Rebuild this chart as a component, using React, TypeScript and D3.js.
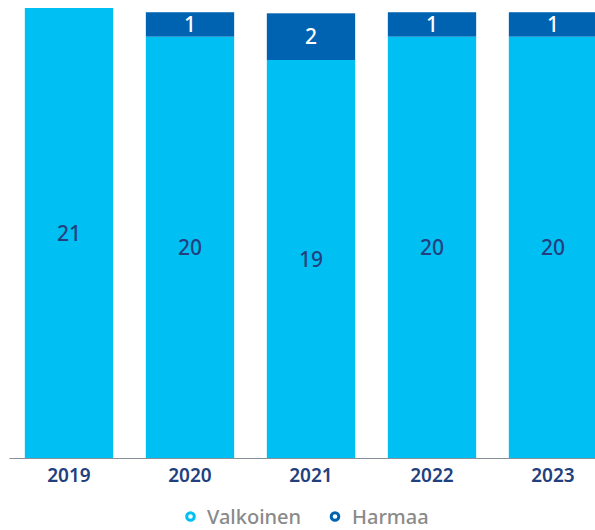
import React from "react";
import * as d3 from "d3";

const years = ["2019", "2020", "2021", "2022", "2023"];
const valkoinen = [21.2, 19.85, 18.75, 19.85, 19.85];
const harmaa = [0, 1.15, 2.2, 1.15, 1.15];
const seriesNames = ["Valkoinen", "Harmaa"];
const seriesColors = ["#00C0F3", "#0063B1"];

const W = 595;
const H = 530;

export default function App() {
  const x = d3
    .scaleBand<string>()
    .domain(years)
    .range([8.5, 8.5 + 121 * 5])
    .paddingInner(0.27)
    .paddingOuter(0.135);
  const y = d3.scaleLinear().domain([0, 21.2]).range([458, 8]);

  const rows = years.map((yr, i) => ({ year: yr, Valkoinen: valkoinen[i], Harmaa: harmaa[i] }));
  const stack = d3.stack<any>().keys(seriesNames);
  const layers = stack(rows);
  const fmt = d3.format(".0f");

  return (
    <svg width={W} height={H} style={{ position: "absolute", left: 0, top: 0, background: "#fff" }}>
      {layers.map((layer, li) => (
        <g key={layer.key}>
          {layer.map((d, i) => {
            const v = d[1] - d[0];
            if (v <= 0) return null;
            const x0 = x(years[i])!;
            const y0 = y(d[1]);
            const h = y(d[0]) - y(d[1]);
            return (
              <g key={i}>
                <rect x={x0} y={y0} width={x.bandwidth()} height={h} fill={seriesColors[li]} />
                <text
                  x={x0 + x.bandwidth() / 2}
                  y={y0 + h / 2}
                  dy="0.36em"
                  textAnchor="middle"
                  fontFamily="'Noto Sans', sans-serif"
                  fontWeight={500}
                  fontSize={21}
                  fill={li === 0 ? "#22407E" : "#ffffff"}
                >
                  {fmt(v)}
                </text>
              </g>
            );
          })}
        </g>
      ))}
      <line x1={9.5} x2={W} y1={458.5} y2={458.5} stroke="#8a9099" strokeWidth={1} />
      {years.map((yr) => (
        <text
          key={yr}
          x={x(yr)! + x.bandwidth() / 2}
          y={482}
          textAnchor="middle"
          fontFamily="'Noto Sans', sans-serif"
          fontWeight={600}
          fontSize={19}
          fill="#22407E"
        >
          {yr}
        </text>
      ))}
      <g>
        {[
          { cx: 190.5, tx: 207 },
          { cx: 335, tx: 352 },
        ].map((p, i) => (
          <g key={i}>
            <circle cx={p.cx} cy={516.5} r={3.8} fill="#fff" stroke={seriesColors[i]} strokeWidth={3} />
            <text
              x={p.tx}
              y={523.5}
              fontFamily="'Noto Sans', sans-serif"
              fontWeight={500}
              fontSize={20}
              fill="#8a8a8a"
            >
              {seriesNames[i]}
            </text>
          </g>
        ))}
      </g>
    </svg>
  );
}
